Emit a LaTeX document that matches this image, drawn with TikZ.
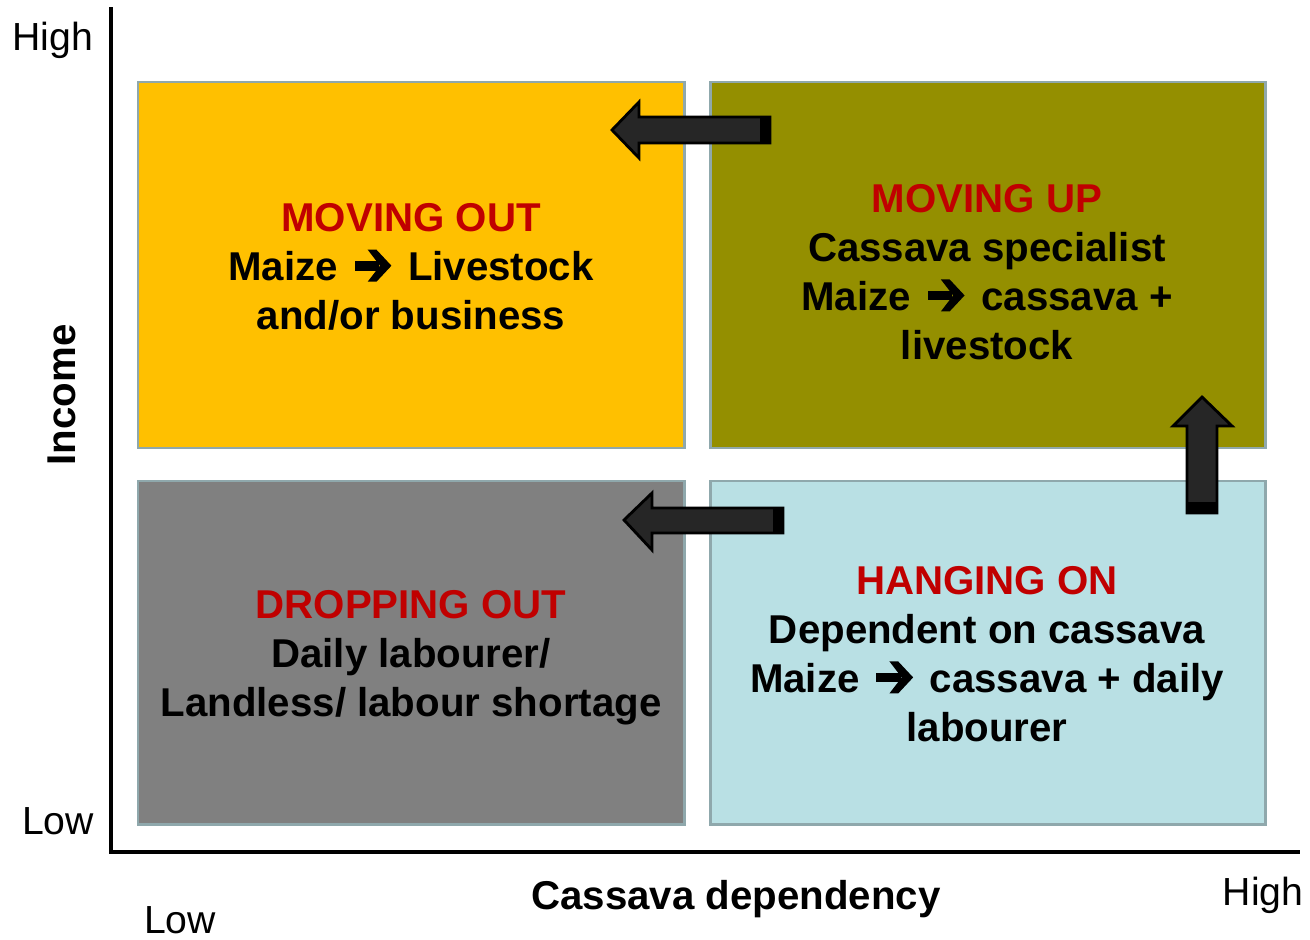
\documentclass[tikz,border=0pt]{standalone}
\usepackage{fontspec}
\setmainfont{Liberation Sans}
% heavy right arrow used inside the quadrant texts
\newcommand{\heavyto}{\hspace{9.5pt}\tikz[x=1pt,y=1pt,baseline=0pt]{%
  \fill[black] (0,5.7) rectangle (14,11.3);
  \fill[black] (7.5,17.6) -- (12.5,17.6) -- (21,8.5) -- (12.5,-0.6) -- (7.5,-0.6) -- (14.5,8.5) -- cycle;}\hspace{9.5pt}}
\begin{document}
\begin{tikzpicture}[x=0.02cm,y=-0.02cm,
  quad/.style={draw=boxedge,line width=1.7pt},
  body/.style={font=\bfseries\fontsize{22.9}{27.9}\selectfont,align=center,text=black},
  axislabel/.style={font=\fontsize{22.3}{26}\selectfont},
  blockarrow/.style={draw=black,fill=arrowfill,line width=1.6pt,line join=miter}]
\definecolor{boxedge}{HTML}{8FA8AC}
\definecolor{gold}{HTML}{FFC000}
\definecolor{olive}{HTML}{948F00}
\definecolor{midgray}{HTML}{808080}
\definecolor{paleblue}{HTML}{B9E0E4}
\definecolor{headred}{HTML}{C00000}
\definecolor{arrowfill}{HTML}{262626}
\useasboundingbox (0,0) rectangle (1310,939);

% quadrants
\draw[quad,fill=gold]     (138,82)  rectangle (684,448);
\draw[quad,fill=olive]    (710,82)  rectangle (1265,448);
\draw[quad,fill=midgray]  (138,481) rectangle (684,824);
\draw[quad,fill=paleblue] (710,481) rectangle (1265,824);

% axes
\draw[line width=2.8pt,line cap=rect] (111,9) -- (111,852) -- (1298,852);

% quadrant texts
\node[body] (out) at (411,267) {\textcolor{headred}{MOVING OUT}\\Maize\heavyto Livestock\\and/or business};
\node[body] (up) at (987,272) {\textcolor{headred}{MOVING UP}\\Cassava specialist\\Maize\heavyto cassava +\\livestock};
\node[body] (drop) at (411,658) {\textcolor{headred}{DROPPING OUT}\\Daily labourer/\\Landless/ labour shortage};
\node[body] (hang) at (987,654) {\textcolor{headred}{HANGING ON}\\Dependent on cassava\\Maize\heavyto cassava + daily\\labourer};

% axis labels
\node[axislabel] (yhigh) at (53,40) {High};
\node[axislabel] (ylow) at (58,821) {Low};
\node[axislabel] (xlow) at (180,920) {Low};
\node[axislabel] (xhigh) at (1263,895) {High};
\node[body] (xlabel) at (736,899) {Cassava dependency};
\node[body,rotate=90] (ylabel) at (62,395) {Income};

% transition arrows
\draw[blockarrow] (770,117) -- (639,117) -- (639,102) -- (612,130) -- (639,158) -- (639,143) -- (770,143) -- cycle;
\fill[black] (760,116) rectangle (771,144);
\draw[blockarrow] (783,508) -- (652,508) -- (652,493) -- (624,520) -- (652,550) -- (652,533) -- (783,533) -- cycle;
\fill[black] (773,507) rectangle (784,534);
\draw[blockarrow] (1187,513) -- (1187,426) -- (1173,426) -- (1202,397) -- (1232,426) -- (1217,426) -- (1217,513) -- cycle;
\fill[black] (1186,502) rectangle (1218,514);
\end{tikzpicture}
\end{document}
